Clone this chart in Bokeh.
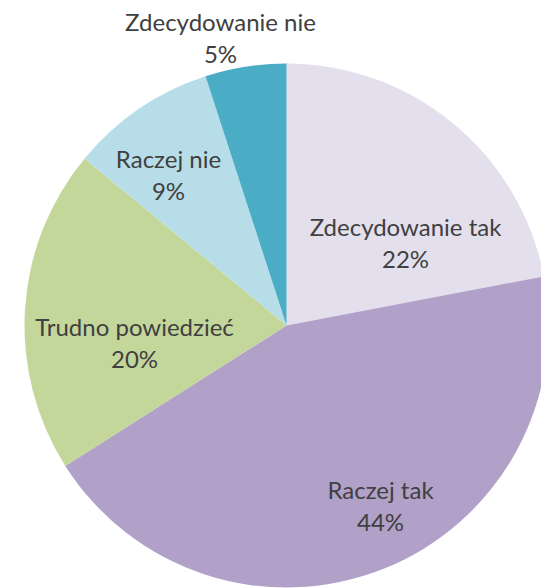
import math
from bokeh.plotting import figure
from bokeh.models import Range1d, ColumnDataSource
from bokeh.core.properties import value
from bokeh.embed import file_html
from bokeh.resources import INLINE

# data
categories = ["Zdecydowanie tak", "Raczej tak", "Trudno powiedzieć", "Raczej nie", "Zdecydowanie nie"]
shares = [22, 44, 20, 9, 5]
colors = ["#E4DFEC", "#B1A0C7", "#C4D79B", "#B7DEE8", "#4BACC6"]

# layout (pixel-like data units)
W, H = 541, 588
cx, cy, r = 286, H - 325, 262
# label anchor offsets from the pie centre (dx, dy) for each slice
label_offsets = [(119, 83), (94, -180), (-152, -17), (-118, 151), (-66, 288)]

total = float(sum(shares))
starts, ends = [], []
a = math.pi / 2
for s in shares:
    starts.append(a)
    a -= 2 * math.pi * s / total
    ends.append(a)

src = ColumnDataSource(dict(start=starts, end=ends, color=colors,
                            x=[cx] * len(shares), y=[cy] * len(shares)))

p = figure(width=W, height=H, output_backend="svg", toolbar_location=None,
           x_range=Range1d(0, W), y_range=Range1d(0, H), min_border=0)
p.axis.visible = False
p.grid.visible = False
p.outline_line_color = None
p.background_fill_color = "white"
p.border_fill_color = "white"

p.wedge(x="x", y="y", radius=r, start_angle="start", end_angle="end",
        direction="clock", fill_color="color", line_color=None, source=src)

lx = [cx + d[0] for d in label_offsets]
ly = [cy + d[1] for d in label_offsets]
names = categories
pcts = [f"{s}%" for s in shares]

p.text(x=lx, y=[y + 16 for y in ly], text=names, text_align="center", text_baseline="middle",
       text_font=value("Lato"), text_font_size="24px", text_color="#404040")
p.text(x=lx, y=[y - 16 for y in ly], text=pcts, text_align="center", text_baseline="middle",
       text_font=value("Lato"), text_font_size="24px", text_color="#404040")

open("out.html", "w").write(file_html(p, INLINE))
